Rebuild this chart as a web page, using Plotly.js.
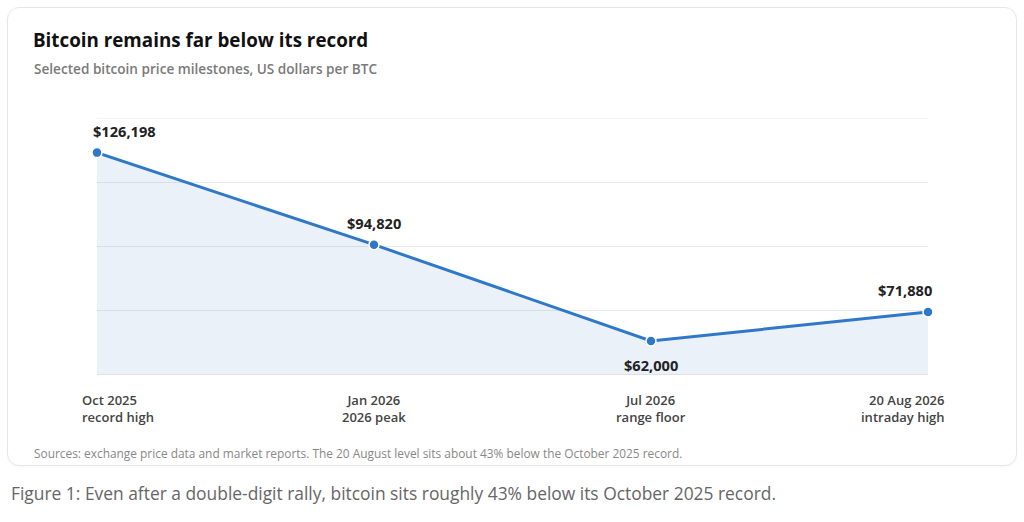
<!DOCTYPE html>
<html>
<head>
<meta charset="utf-8">
<script src="https://cdn.plot.ly/plotly-3.0.1.min.js"></script>
<style>
  html, body { margin: 0; padding: 0; background: #fff; width: 1024px; height: 522px; overflow: hidden; }
  #card {
    position: absolute; left: 7px; top: 7px; width: 1010px; height: 459px;
    border: 1px solid #e6e6e6; border-radius: 12px; box-sizing: border-box;
    box-shadow: 0 1px 2px rgba(0,0,0,0.03);
  }
  #chart { position: absolute; left: 0; top: 0; width: 1024px; height: 470px; }
  #caption {
    position: absolute; left: 11px; top: 481px;
    font-family: "Open Sans", sans-serif; font-size: 17.4px; color: #666;
  }
</style>
</head>
<body>
<div id="card"></div>
<div id="chart"></div>
<div id="caption">Figure 1: Even after a double-digit rally, bitcoin sits roughly 43% below its October 2025 record.</div>
<script>
// milestones, US dollars per BTC
const dates = ['Oct 2025', 'Jan 2026', 'Jul 2026', '20 Aug 2026'];
const notes = ['record high', '2026 peak', 'range floor', 'intraday high'];
const prices = [126198, 94820, 62000, 71880];
const labelAbove = [true, true, false, true];

const FONT = '"Open Sans", "Noto Sans", sans-serif';
const BLUE = '#2f78c9';

const yLo = 50400, yHi = 138000;
const grid = [0, 1, 2, 3, 4].map(i => yLo + i * (yHi - yLo) / 4);

const fmt = v => '$' + v.toLocaleString('en-US');

const trace = {
  x: dates, y: prices, type: 'scatter', mode: 'lines+markers',
  line: { color: BLUE, width: 3 },
  marker: { color: BLUE, size: 10, line: { color: '#fff', width: 1.5 } },
  fill: 'tozeroy', fillcolor: 'rgba(47,120,201,0.10)',
  hoverinfo: 'skip', cliponaxis: false
};

const n = dates.length;
const anchorFor = i => (i === 0 ? 'left' : (i === n - 1 ? 'right' : 'center'));
const shiftFor = i => (i === 0 ? -6 : (i === n - 1 ? 6 : 0));

const annotations = [];
prices.forEach((v, i) => {
  annotations.push({
    x: dates[i], y: v, xref: 'x', yref: 'y', text: '<b>' + fmt(v) + '</b>',
    showarrow: false, xanchor: anchorFor(i), xshift: shiftFor(i),
    yanchor: 'middle', yshift: labelAbove[i] ? 22 : -24,
    font: { family: FONT, size: 14.6, color: '#222' }
  });
});
dates.forEach((d, i) => {
  const sh = i === 0 ? -17 : (i === n - 1 ? 19 : 0);
  annotations.push({
    x: d, y: 0, xref: 'x', yref: 'paper', yanchor: 'top', yshift: -14,
    text: d + '<br>' + notes[i], showarrow: false,
    xanchor: anchorFor(i), align: anchorFor(i), xshift: sh,
    font: { family: FONT, size: 13, color: '#444', weight: 600 }
  });
});
// subtitle
annotations.push({
  x: 32, y: 68, xref: 'paper', yref: 'paper', text: 'Selected bitcoin price milestones, US dollars per BTC',
  showarrow: false, xanchor: 'left', yanchor: 'middle',
  font: { family: FONT, size: 13.6, color: '#7a7a7a', weight: 600 }
});
// source
annotations.push({
  x: 32, y: 453, xref: 'paper', yref: 'paper',
  text: 'Sources: exchange price data and market reports. The 20 August level sits about 43% below the October 2025 record.',
  showarrow: false, xanchor: 'left', yanchor: 'middle',
  font: { family: FONT, size: 11.9, color: '#888' }
});

const layout = {
  width: 1024, height: 470,
  margin: { l: 97, r: 96, t: 118, b: 95 },
  paper_bgcolor: 'rgba(0,0,0,0)', plot_bgcolor: 'rgba(0,0,0,0)',
  showlegend: false,
  title: {
    text: '<b>Bitcoin remains far below its record</b>',
    x: 33 / 1024, xanchor: 'left', xref: 'container', y: 1 - 40 / 470, yanchor: 'middle',
    font: { family: FONT, size: 18.8, color: '#111' }
  },
  xaxis: {
    type: 'category', categoryarray: dates, range: [0, n - 1],
    showgrid: false, zeroline: false, showticklabels: false, ticks: '',
    showline: false, fixedrange: true
  },
  yaxis: {
    range: [yLo, yHi], tickvals: grid, showticklabels: false, ticks: '',
    gridcolor: '#e9e9e9', gridwidth: 1, zeroline: false, showline: false, fixedrange: true
  },
  shapes: [
    { type: 'line', xref: 'paper', yref: 'y', x0: 0, x1: 1, y0: yHi, y1: yHi,
      line: { color: '#e9e9e9', width: 1 }, layer: 'below' },
    { type: 'line', xref: 'paper', yref: 'y', x0: 0, x1: 1, y0: yLo, y1: yLo,
      line: { color: '#dcdcdc', width: 1.5 } }
  ],
  annotations: annotations
};

// paper-positioned texts given in pixels: convert to paper fractions
const pw = 1024 - 97 - 96, ph = 470 - 118 - 95;
layout.annotations.forEach(a => {
  if (a.xref === 'paper' && a.x > 1) {
    a.x = (a.x - 97) / pw;
    a.y = (470 - 95 - a.y) / ph;
  }
});

Plotly.newPlot('chart', [trace], layout, { staticPlot: true, displayModeBar: false });
</script>
</body>
</html>
